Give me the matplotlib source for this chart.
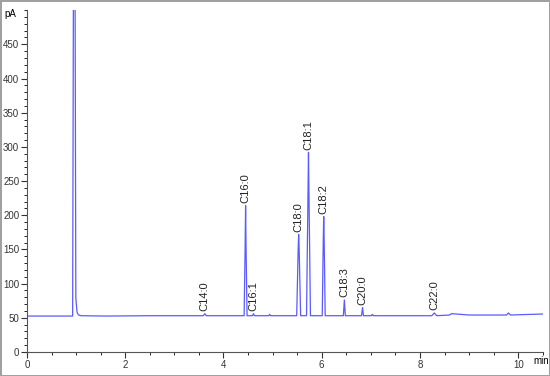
import matplotlib.pyplot as plt
from matplotlib.ticker import MultipleLocator

plt.rcParams['font.family'] = ['Liberation Sans', 'DejaVu Sans']

# trace (time in min, signal in pA)
time = [0.0, 0.93, 0.945, 0.955, 0.965, 0.98, 0.995, 1.005, 1.02, 1.05, 1.1, 1.6, 2.5,
        3.59, 3.62, 3.65, 4.42, 4.44, 4.45, 4.46, 4.48, 4.59, 4.61, 4.63, 4.92, 4.94, 4.96,
        5.49, 5.52, 5.53, 5.54, 5.57, 5.69, 5.72, 5.73, 5.74, 5.77, 6.01, 6.03, 6.04, 6.05,
        6.07, 6.44, 6.46, 6.48, 6.81, 6.83, 6.85, 7.01, 7.03, 7.05, 7.6, 8.24, 8.29, 8.34,
        8.6, 8.64, 9.0, 9.76, 9.80, 9.84, 10.5]
signal = [52.5, 52.5, 510, 510, 510, 510, 80, 70, 58, 54, 53, 52.5, 53,
          53, 56, 53, 53, 150, 214, 150, 53, 53, 56, 53, 53, 55, 53,
          53, 150, 172, 150, 53, 53, 230, 292, 230, 53, 53, 160, 198, 160,
          53, 53, 76, 53, 53, 65, 53, 53, 55, 53, 53, 53, 57, 53,
          54, 56, 54, 54, 57, 54, 55.5]

peak_names = ['C14:0', 'C16:0', 'C16:1', 'C18:0', 'C18:1', 'C18:2', 'C18:3', 'C20:0', 'C22:0']
peak_times = [3.62, 4.45, 4.61, 5.53, 5.73, 6.04, 6.46, 6.83, 8.29]
peak_heights = [56, 214, 56, 172, 292, 198, 76, 65, 57]

fig = plt.figure(figsize=(5.5, 3.76), dpi=100)
fig.patch.set_edgecolor('#a0a0a0')
fig.patch.set_linewidth(1.0)
ax = fig.add_axes([0.049, 0.064, 0.938, 0.909])

ax.plot(time, signal, color='#5a5aff', lw=0.9)

for name, t, h in zip(peak_names, peak_times, peak_heights):
    ax.text(t, h + 4, name, rotation=90, ha='center', va='bottom', fontsize=8, color='#222222')

ax.set_xlim(0, 10.5)
ax.set_ylim(0, 500)
ax.xaxis.set_major_locator(MultipleLocator(2))
ax.xaxis.set_minor_locator(MultipleLocator(0.5))
ax.yaxis.set_major_locator(MultipleLocator(50))
ax.yaxis.set_minor_locator(MultipleLocator(10))
ax.set_yticks(range(0, 500, 50))
ax.tick_params(labelsize=7, colors='#333333', length=4, width=0.8, pad=1.5)
ax.tick_params(which='minor', length=2, width=0.6)
ax.spines['top'].set_visible(False)
ax.spines['right'].set_visible(False)
for s in ['left', 'bottom']:
    ax.spines[s].set_color('#555555')

ax.text(-0.02, 0.99, 'pA', transform=ax.transAxes, ha='right', va='center', fontsize=7)
ax.text(10.3, -6, 'min', ha='left', va='top', fontsize=7, clip_on=False)

fig.savefig('out.png', dpi=100, edgecolor=fig.get_edgecolor())
